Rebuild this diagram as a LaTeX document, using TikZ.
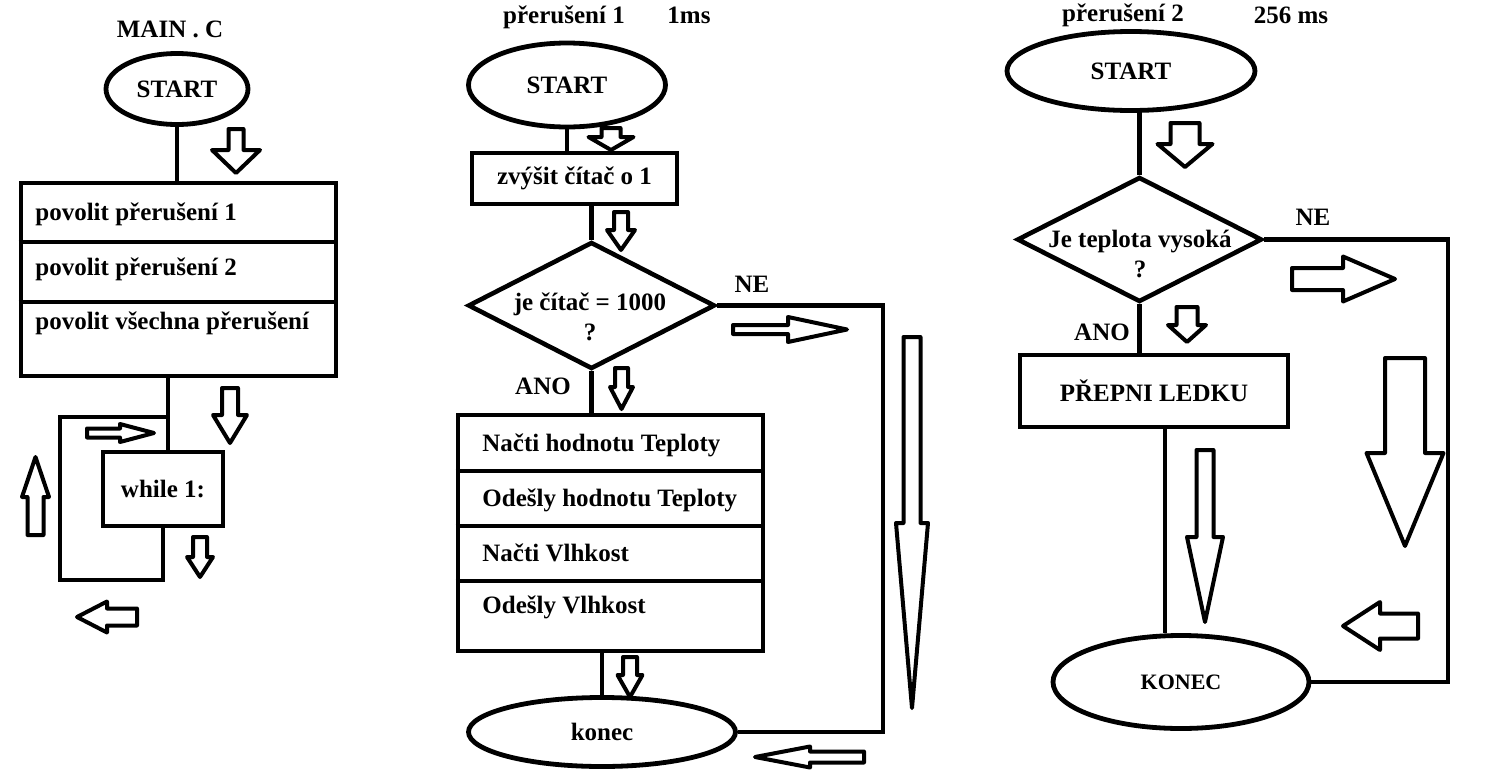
\documentclass[tikz,border=0pt]{standalone}
\usepackage{fontspec}
\setmainfont{Liberation Serif}
\usetikzlibrary{shapes.geometric}
\usetikzlibrary{calc}
\tikzset{
  flowline/.style={line width=2.4pt},
  terminal/.style={ellipse, draw, line width=2.4pt, inner sep=0pt},
  process/.style={rectangle, draw, line width=2.3pt, inner sep=0pt},
  decision/.style={diamond, draw, line width=2.3pt, inner sep=0pt},
  itemtext/.style={anchor=west, inner sep=0pt},
  blockarrow/.style={draw, line width=2pt, line join=round, fill=white},
}
\newcommand{\arrowDown}[6]{% x, tail, head, tip, shaft, head width
  \draw[blockarrow] ({#1-#5},#2) -- ({#1+#5},#2) -- ({#1+#5},#3) -- ({#1+#6},#3)
    -- (#1,#4) -- ({#1-#6},#3) -- ({#1-#5},#3) -- cycle;
}
\newcommand{\arrowSide}[6]{% y, tail, head, tip, shaft, head width
  \draw[blockarrow] (#2,{#1-#5}) -- (#2,{#1+#5}) -- (#3,{#1+#5}) -- (#3,{#1+#6})
    -- (#4,#1) -- (#3,{#1-#6}) -- (#3,{#1-#5}) -- cycle;
}

\begin{document}
\begin{tikzpicture}[x=0.5pt,y=-0.5pt, font=\bfseries\fontsize{12.5}{15}\selectfont]
	\useasboundingbox (0,0) rectangle (1485,777);

	% MAIN . C
	\node (titleMain) at (170,29) {MAIN . C};
	\node[terminal, minimum width=71pt, minimum height=35.5pt] (startMain) at (177,89) {START};
	\node[process, minimum width=157.5pt, minimum height=96.5pt] (initBox) at (178.5,279.5) {};
	\draw[flowline] (initBox.west |- 0,242) -- (initBox.east |- 0,242);
	\draw[flowline] (initBox.west |- 0,302) -- (initBox.east |- 0,302);
	\node[itemtext] (povolit1) at (35,214) {povolit přerušení 1};
	\node[itemtext] (povolit2) at (35,269) {povolit přerušení 2};
	\node[itemtext] (povolitAll) at (35,323) {povolit všechna přerušení};
	\node[process, minimum width=60pt, minimum height=37pt] (whileBox) at (163,489) {while 1:};

	\coordinate (loopIn) at (168,417);
	\coordinate (loopCorner) at (60,580);
	\draw[flowline] (startMain.south) -- (startMain.south |- initBox.north);
	\draw[flowline] (loopIn |- initBox.south) -- (loopIn |- whileBox.north);
	\draw[flowline] (whileBox.south) |- (loopCorner) |- (loopIn);

	% preruseni 1
	\node (title1) at (564,17) {přerušení 1};
	\node (period1) at (689,15) {1ms};
	\node[terminal, minimum width=98.5pt, minimum height=42pt] (start1) at (567,85) {START};
	\node[process, minimum width=102.5pt, minimum height=25.5pt] (incBox) at (574.5,178.5) {zvýšit čítač o 1};
	\node[decision, minimum width=123.5pt, minimum height=63.5pt] (dec1) at (591.5,305.5) {};
	\node[align=center] (dec1text) at (590,317) {je čítač = 1000\\?};
	\node (ne1) at (752,284) {NE};
	\node (ano1) at (543,386) {ANO};
	\node[process, minimum width=152.5pt, minimum height=118pt] (sensorBox) at (610.5,533) {};
	\foreach \y in {471,526,581}
		\draw[flowline] (sensorBox.west |- 0,\y) -- (sensorBox.east |- 0,\y);
	\node[itemtext] (readTemp) at (482,445) {Načti hodnotu Teploty};
	\node[itemtext] (sendTemp) at (482,500) {Odešly hodnotu Teploty};
	\node[itemtext] (readHum) at (482,553) {Načti Vlhkost};
	\node[itemtext] (sendHum) at (482,607) {Odešly Vlhkost};
	\node[terminal, minimum width=133.5pt, minimum height=34.5pt] (konec1) at (602,732) {konec};

	\coordinate (ne1Corner) at (883,732);
	\draw[flowline] (start1.south) -- (start1.south |- incBox.north);
	\draw[flowline] (dec1.north |- incBox.south) -- (dec1.north);
	\draw[flowline] (dec1.south) -- (dec1.south |- sensorBox.north);
	\draw[flowline] (konec1.north |- sensorBox.south) -- (konec1.north);
	\draw[flowline] (dec1.east) -| (ne1Corner) -- (konec1.east);

	% preruseni 2
	\node (title2) at (1123,15) {přerušení 2};
	\node (period2) at (1291,15) {256 ms};
	\node[terminal, minimum width=124pt, minimum height=39.5pt] (start2) at (1131,71) {START};
	\node[decision, minimum width=122.5pt, minimum height=62.5pt] (dec2) at (1139.5,239.5) {};
	\node[align=center] (dec2text) at (1140,254) {Je teplota vysoká\\?};
	\node (ne2) at (1313,217) {NE};
	\node (ano2) at (1102,332) {ANO};
	\node[process, minimum width=134pt, minimum height=36pt] (ledBox) at (1154,391) {PŘEPNI LEDKU};
	\node[terminal, minimum width=128pt, minimum height=46.5pt, font=\bfseries\fontsize{11}{13}\selectfont] (konec2) at (1181,682) {KONEC};

	\coordinate (ne2Corner) at (1448,682);
	\draw[flowline] (dec2.north |- start2.south) -- (dec2.north);
	\draw[flowline] (dec2.south) -- (dec2.south |- ledBox.north);
	\draw[flowline] ([xshift=5.5pt]ledBox.south) -- ([xshift=5.5pt]ledBox.south |- konec2.north);
	\draw[flowline] (dec2.east) -| (ne2Corner) -- (konec2.east);

	% block arrows: x/tail/head/tip/shaft/head
	\foreach \x/\a/\b/\c/\s/\h in {236/129/150/173/7.5/24, 230/388/415/443/8/17,
		200/537/557/577/7/13, 35.5/535/497/457/8/13.5, 611/128/137/150/9.5/22.5,
		621/212/230/250/7/14, 621.5/368/387/409/6.5/11.5, 630/657/675/697/7/12.5,
		912/337/523/708/8.5/16, 1185/123/144/167/14.5/27.5, 1187/307/325/342/10.5/19,
		1205/450/537/622/8.5/18, 1405/358/453/546/20/38.5}
		\arrowDown{\x}{\a}{\b}{\c}{\s}{\h};
	\foreach \y/\a/\b/\c/\s/\h in {433/87/120/154/4.5/9, 617/137/107/77/8.5/15.5,
		329.5/733/788/847/4.5/12.5, 757/864/810/755/5.5/10.5,
		279/1292/1343/1395/11/22.5, 626/1418/1380/1343/12.5/24}
		\arrowSide{\y}{\a}{\b}{\c}{\s}{\h};
\end{tikzpicture}
\end{document}
